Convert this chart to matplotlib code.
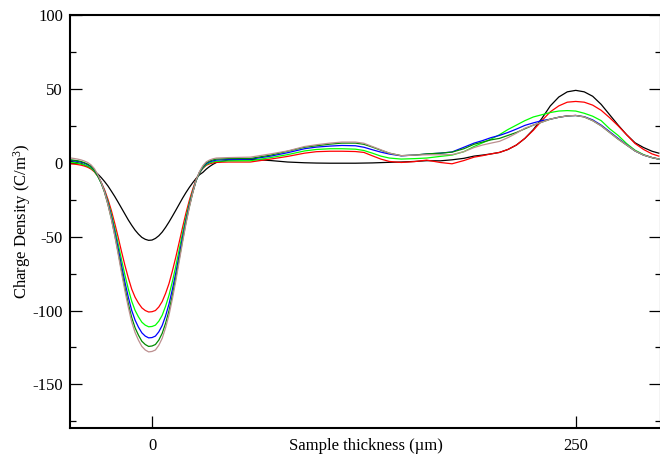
import matplotlib
matplotlib.use("Agg")
import matplotlib.pyplot as plt
from matplotlib.ticker import MultipleLocator, FixedLocator

plt.rcParams["font.family"] = ["Liberation Serif", "DejaVu Serif"]
plt.rcParams["mathtext.fontset"] = "custom"
plt.rcParams["mathtext.rm"] = "Liberation Serif"
plt.rcParams["mathtext.it"] = "Liberation Serif:italic"
plt.rcParams["axes.unicode_minus"] = False

# sample position (um), shared by all the profiles
x_um = [-48, -46, -44, -42, -40, -38, -36, -34, -32, -30, -28, -26, -24, -22, -20, -18, -16, -14, -12, -10,
        -8, -6, -4, -2, 0, 2, 4, 6, 8, 10, 12, 14, 16, 18, 20, 22, 24, 26, 28, 30,
        32, 34, 36, 38, 45, 58, 70, 80, 90, 97, 105, 112, 120, 125, 130, 135, 140, 147, 155, 162,
        170, 177, 184, 190, 195, 200, 205, 210, 215, 220, 225, 230, 235, 240, 245, 250, 255, 260, 265, 270,
        275, 280, 285, 290, 295, 299]

rho_black = [0.9, 0.5, 0.0, -0.7, -1.5, -2.6, -4.0, -5.6, -7.6, -10.0, -12.7, -15.7, -19.2, -22.8, -26.7, -30.7, -34.7, -38.7, -42.3, -45.6,
             -48.3, -50.5, -51.8, -52.5, -52.3, -51.2, -49.4, -46.9, -43.7, -40.1, -36.2, -32.2, -28.1, -24.0, -20.2, -16.7, -13.5, -10.6, -8.1, -6.5,
             -4.3, -2.5, -1.0, 0.2, 1.8, 2.3, 1.5, 0.5, 0, -0.2, -0.3, -0.3, -0.3, -0.2, -0.1, 0.1, 0.3, 0.5, 0.9, 1.4,
             1.3, 2, 3, 4.5, 5.2, 6, 7, 9, 12, 16.5, 22.5, 30, 38.5, 44.5, 48, 49, 48, 45, 39.5, 32.5,
             25.5, 19, 13.5, 10.3, 7.8, 6.5]

rho_red = [-0.7, -0.9, -1.2, -1.6, -2.2, -3.0, -4.2, -6.2, -9.2, -13.2, -18.3, -24.8, -32.3, -41.0, -50.3, -60.1, -69.4, -77.9, -85.5, -91.0,
           -95.0, -98.2, -100.0, -101, -100.8, -100.0, -97.6, -93.9, -88.4, -81.8, -73.3, -64.0, -53.9, -43.8, -34.1, -25.5, -17.9, -11.3, -6.8, -3.8,
           -1.7, -0.7, -0.1, 0.3, 0.5, 0.5, 2.5, 4.3, 6.5, 7.5, 7.8, 7.8, 7.6, 7, 4.7, 2.5, 0.9, 0.2, 0.8, 1.8,
           0.2, -0.7, 1.5, 3.8, 4.8, 6, 7, 9, 12, 16.5, 22, 28.5, 34.5, 38.5, 41, 41.5, 41, 39, 35.5, 30.5,
           25, 19, 13, 9, 6, 4.5]

rho_green = [0.3, 0.1, -0.3, -0.7, -1.4, -2.3, -3.6, -5.8, -9.2, -13.6, -19.2, -26.4, -34.8, -44.4, -54.8, -65.6, -75.9, -85.4, -93.7, -99.9,
             -104.3, -107.9, -109.9, -111, -110.8, -109.9, -107.2, -103.2, -97.1, -89.7, -80.4, -70.1, -58.9, -47.7, -37.1, -27.6, -19.2, -11.9, -6.8, -3.5,
             -1.2, -0.1, 0.6, 1.0, 1.3, 1.4, 3.5, 5.5, 8, 9, 9.5, 9.5, 9.2, 8.3, 6.5, 4.5, 3.2, 2.5, 2.8, 3.2,
             4.3, 5.2, 7.5, 11, 13.5, 16, 19, 22.5, 25.5, 28.5, 31, 32.5, 34, 35, 35.3, 35, 33.5, 31.5, 28.5, 23,
             18.5, 13, 8.5, 5.5, 3.5, 2.5]

rho_blue = [1.5, 1.3, 0.9, 0.4, -0.3, -1.3, -2.7, -5.1, -8.7, -13.5, -19.5, -27.3, -36.3, -46.7, -57.9, -69.5, -80.7, -90.9, -99.9, -106.5,
            -111.3, -115.1, -117.3, -118.5, -118.3, -117.3, -114.4, -110.1, -103.6, -95.6, -85.7, -74.6, -62.6, -50.5, -39.1, -28.9, -19.9, -12.0, -6.6, -3.0,
            -0.6, 0.6, 1.3, 1.8, 2.2, 2.4, 4.5, 6.8, 9.5, 10.6, 11.3, 11.7, 11.5, 10.5, 8.8, 7.2, 5.9, 4.7, 5.2, 5.9,
            6.5, 7.3, 10.5, 13.3, 15, 17, 18.5, 20.5, 22.8, 25.3, 27, 28.5, 29.5, 30.8, 31.7, 32, 31.2, 29, 25.5, 21,
            16.5, 12.2, 8, 5.2, 3.5, 2.5]

rho_dkgreen = [2.0, 1.7, 1.4, 0.9, 0.1, -0.9, -2.4, -4.9, -8.7, -13.8, -20.1, -28.3, -37.8, -48.8, -60.5, -72.8, -84.5, -95.3, -104.7, -111.7,
               -116.7, -120.8, -123.0, -124.3, -124.0, -123.0, -120.0, -115.4, -108.6, -100.2, -89.7, -78.0, -65.3, -52.7, -40.6, -29.8, -20.3, -12.1, -6.4, -2.6,
               0, 1.2, 2.0, 2.5, 2.8, 2.9, 5.2, 7.8, 10.5, 11.5, 12.6, 13.3, 13.3, 12.5, 10.6, 8.5, 6.5, 4.8, 5.2, 6,
               6.5, 7.2, 9.5, 12.5, 14, 15.5, 16.5, 18.5, 20.5, 23, 25.5, 27.5, 29.5, 30.8, 31.7, 32, 31, 28.5, 25, 20.5,
               16, 12, 8, 5.2, 3.5, 2.5]

rho_brown = [3.2, 2.9, 2.5, 2.0, 1.2, 0.2, -1.4, -4.0, -8.0, -13.2, -19.8, -28.3, -38.1, -49.5, -61.7, -74.5, -86.7, -97.8, -107.7, -114.9,
             -120.1, -124.3, -126.7, -128, -127.7, -126.7, -123.5, -118.8, -111.7, -103.1, -92.2, -80.1, -67.0, -53.9, -41.4, -30.3, -20.4, -11.9, -6.0, -2.0,
             0.6, 1.9, 2.7, 3.2, 3.5, 3.8, 6, 8, 11, 12.2, 13.3, 14, 14, 13.2, 11, 8.8, 6.5, 4.8, 5.2, 5.4,
             5.4, 5.5, 7.5, 10.3, 12, 13.3, 14.5, 17, 20, 23.4, 25.5, 27.5, 29.5, 30.8, 31.7, 32, 31, 28.5, 25, 20.5,
             16, 12, 8, 5.2, 3.5, 2.5]

profiles = [
    (rho_black, "#000000"),
    (rho_red, "#ff0000"),
    (rho_green, "#00ff00"),
    (rho_blue, "#0000ff"),
    (rho_dkgreen, "#008b00"),
    (rho_brown, "#bc8f8f"),
]

fig = plt.figure(figsize=(6.6, 4.54), dpi=100)
ax = fig.add_axes([70 / 660, 26 / 454, 591 / 660, 413 / 454])

for rho, col in profiles:
    ax.plot(x_um, rho, "-", color=col, linewidth=0.9)

ax.set_xlim(-48.4, 300.3)
ax.set_ylim(-179.5, 100)

ax.xaxis.set_major_locator(FixedLocator([0, 250]))
ax.yaxis.set_major_locator(MultipleLocator(50))
ax.yaxis.set_minor_locator(MultipleLocator(25))

ax.tick_params(axis="y", which="both", direction="in", left=True, right=True, width=0.9, labelsize=12, pad=5)
ax.tick_params(axis="y", which="major", length=8.5)
ax.tick_params(axis="y", which="minor", length=4.2)
ax.tick_params(axis="x", which="major", direction="in", bottom=True, top=False, length=8.5, width=0.9,
               labelsize=12, pad=7)
ax.tick_params(axis="x", which="minor", bottom=False, top=False)

for side in ["left", "bottom", "top", "right"]:
    ax.spines[side].set_linewidth(1.5)

ax.set_xlabel("Sample thickness (\u00b5m)", fontsize=12)
ax.xaxis.set_label_coords(0.5, -0.024)
ax.set_ylabel("Charge Density (C/m$^3$)", fontsize=12)
ax.yaxis.set_label_coords(-0.062, 0.5)

fig.savefig("out.png", dpi=100)
